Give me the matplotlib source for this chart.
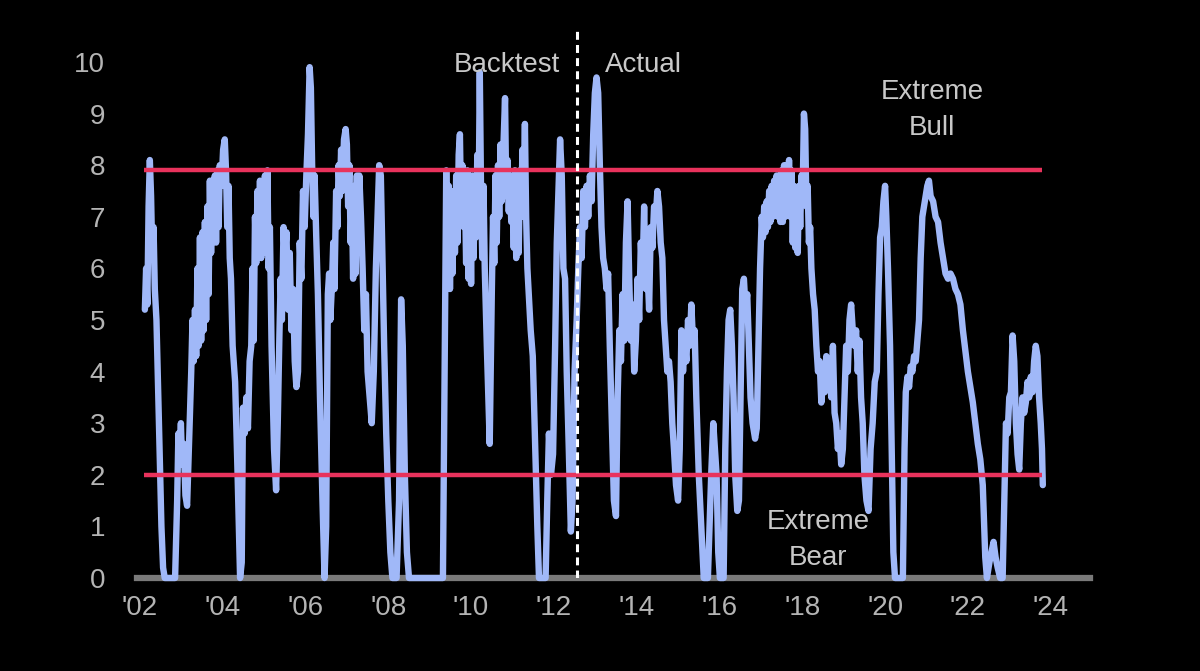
import matplotlib
matplotlib.use("Agg")
import matplotlib.pyplot as plt
from matplotlib import font_manager

# ---------------- data (by period) ----------------
years_02 = [2002.12, 2002.15, 2002.18, 2002.21, 2002.24, 2002.27, 2002.30, 2002.33, 2002.36, 2002.40,
            2002.46, 2002.52, 2002.56, 2002.60, 2002.85, 2002.90, 2002.93, 2002.96, 2002.99, 2003.02,
            2003.06, 2003.10, 2003.14, 2003.18, 2003.21, 2003.24, 2003.27]
vals_02 = [5.2, 6.0, 5.3, 7.2, 8.1, 7.4, 6.2, 6.8, 5.6, 5.0,
           3.0, 1.0, 0.2, 0.0, 0.0, 1.5, 2.8, 2.4, 3.0, 2.2,
           2.6, 1.6, 1.4, 2.4, 3.2, 4.0, 5.0]

years_03 = [2003.30, 2003.33, 2003.36, 2003.39, 2003.42, 2003.45, 2003.48, 2003.51, 2003.54, 2003.57,
            2003.60, 2003.63, 2003.66, 2003.69, 2003.72, 2003.75, 2003.78, 2003.81, 2003.84, 2003.87,
            2003.90, 2003.93, 2003.97, 2004.01, 2004.05, 2004.08, 2004.11, 2004.14, 2004.17, 2004.20]
vals_03 = [4.2, 5.2, 4.3, 6.0, 4.5, 6.6, 4.6, 6.7, 4.8, 6.9,
           5.0, 7.2, 5.5, 7.7, 6.3, 7.7, 6.6, 7.8, 6.5, 7.9,
           6.8, 8.0, 7.6, 8.3, 8.5, 7.9, 6.8, 7.6, 6.2, 5.8]

years_04 = [2004.24, 2004.30, 2004.36, 2004.42, 2004.46, 2004.49, 2004.53, 2004.57, 2004.61, 2004.65,
            2004.69, 2004.72, 2004.75, 2004.78, 2004.81, 2004.84, 2004.87, 2004.90, 2004.93, 2004.96,
            2004.99, 2005.02, 2005.05, 2005.08, 2005.11, 2005.14, 2005.18, 2005.24, 2005.29]
vals_04 = [4.5, 3.8, 2.0, 0.0, 0.3, 3.3, 2.8, 3.5, 2.9, 4.2,
           4.5, 6.0, 4.6, 7.0, 6.1, 7.5, 6.3, 7.7, 6.2, 7.6,
           6.4, 7.8, 6.3, 7.9, 6.0, 6.8, 4.5, 2.5, 1.7]

years_05 = [2005.33, 2005.37, 2005.40, 2005.43, 2005.47, 2005.50, 2005.54, 2005.58, 2005.62, 2005.66,
            2005.70, 2005.74, 2005.78, 2005.82, 2005.86, 2005.90, 2005.94, 2005.98, 2006.02, 2006.06,
            2006.10, 2006.13, 2006.16, 2006.19, 2006.22, 2006.26, 2006.30, 2006.35, 2006.41, 2006.46]
vals_05 = [3.0, 4.7, 5.8, 5.0, 6.8, 6.2, 6.7, 5.2, 6.3, 4.8,
           5.6, 4.2, 3.7, 4.0, 6.5, 5.8, 7.5, 6.8, 7.8, 8.6,
           9.9, 9.5, 8.0, 7.0, 7.8, 6.6, 5.5, 3.5, 1.5, 0.0]

years_06 = [2006.50, 2006.54, 2006.57, 2006.60, 2006.64, 2006.67, 2006.70, 2006.74, 2006.77, 2006.80,
            2006.83, 2006.86, 2006.89, 2006.93, 2006.97, 2007.00, 2007.03, 2007.06, 2007.09, 2007.12,
            2007.15, 2007.18, 2007.21, 2007.24, 2007.27, 2007.30, 2007.34, 2007.38, 2007.42]
vals_06 = [1.0, 5.5, 5.9, 5.0, 5.7, 6.5, 5.6, 7.5, 6.8, 8.0,
           7.4, 8.3, 7.5, 8.5, 8.7, 8.4, 7.2, 8.0, 6.5, 7.4,
           5.8, 7.6, 5.9, 7.8, 6.4, 7.8, 7.0, 6.0, 4.8]

years_07 = [2007.46, 2007.50, 2007.55, 2007.60, 2007.65, 2007.70, 2007.74, 2007.78, 2007.82, 2007.86,
            2007.90, 2007.95, 2008.00, 2008.05, 2008.10, 2008.20, 2008.26, 2008.31, 2008.35, 2008.40,
            2008.45, 2008.50, 2009.32, 2009.36]
vals_07 = [5.5, 4.0, 3.5, 3.0, 4.0, 6.0, 7.0, 8.0, 7.8, 6.2,
           4.5, 2.8, 1.5, 0.5, 0.0, 0.0, 1.5, 5.4, 4.5, 2.0,
           0.5, 0.0, 0.0, 4.0]

years_09 = [2009.40, 2009.43, 2009.46, 2009.49, 2009.52, 2009.55, 2009.58, 2009.61, 2009.64, 2009.67,
            2009.70, 2009.73, 2009.76, 2009.79, 2009.82, 2009.85, 2009.88, 2009.91, 2009.94, 2009.97,
            2010.00, 2010.03, 2010.06, 2010.09, 2010.12, 2010.15, 2010.18, 2010.21, 2010.24, 2010.27,
            2010.30, 2010.33]
vals_09 = [7.9, 5.8, 7.6, 5.6, 7.2, 5.9, 7.5, 6.3, 7.8, 6.5,
           8.2, 8.6, 7.0, 8.0, 6.8, 7.6, 6.1, 7.9, 5.8, 7.4,
           5.7, 7.8, 6.2, 7.5, 6.6, 8.2, 7.0, 9.8, 7.5, 6.2,
           7.6, 6.0]

years_10 = [2010.38, 2010.45, 2010.50, 2010.53, 2010.56, 2010.59, 2010.62, 2010.65, 2010.68, 2010.71,
            2010.74, 2010.77, 2010.80, 2010.82, 2010.85, 2010.88, 2010.91, 2010.94, 2010.97, 2011.00,
            2011.03, 2011.06, 2011.09, 2011.12, 2011.15, 2011.18, 2011.21, 2011.24, 2011.27, 2011.30,
            2011.33, 2011.36, 2011.40, 2011.44]
vals_10 = [4.5, 2.6, 5.5, 7.0, 6.1, 7.8, 6.5, 8.0, 7.0, 8.4,
           7.3, 8.1, 8.8, 9.3, 7.4, 8.1, 7.1, 7.8, 6.9, 7.6,
           6.4, 7.9, 6.2, 7.4, 6.3, 7.9, 7.0, 8.3, 7.5, 8.8,
           7.0, 6.0, 5.4, 4.8]

years_11 = [2011.49, 2011.55, 2011.60, 2011.64, 2011.80, 2011.84, 2011.88, 2011.93, 2011.98, 2012.03,
            2012.07, 2012.11, 2012.15, 2012.19, 2012.23, 2012.27, 2012.31, 2012.36, 2012.41, 2012.45]
vals_11 = [4.3, 2.5, 1.0, 0.0, 0.0, 1.5, 2.8, 2.0, 2.4, 4.5,
           6.5, 7.5, 8.5, 7.8, 6.0, 5.8, 4.0, 2.5, 0.9, 1.5]

years_12 = [2012.50, 2012.55, 2012.59, 2012.63, 2012.67, 2012.71, 2012.75, 2012.79, 2012.83, 2012.87,
            2012.91, 2012.95, 2012.99, 2013.03, 2013.07, 2013.11, 2013.15, 2013.19, 2013.23, 2013.27,
            2013.31, 2013.35, 2013.40, 2013.45, 2013.50]
vals_12 = [4.0, 5.0, 6.0, 6.8, 6.2, 7.5, 6.8, 7.6, 7.0, 7.8,
           7.3, 8.6, 9.4, 9.7, 9.4, 8.0, 6.8, 6.2, 6.0, 5.6,
           5.9, 4.5, 3.0, 1.5, 1.2]

years_13 = [2013.54, 2013.58, 2013.62, 2013.66, 2013.70, 2013.74, 2013.78, 2013.82, 2013.86, 2013.90,
            2013.94, 2013.98, 2014.02, 2014.06, 2014.10, 2014.14, 2014.18, 2014.22, 2014.26, 2014.30,
            2014.34, 2014.38, 2014.42, 2014.46, 2014.50, 2014.54, 2014.58, 2014.62, 2014.66, 2014.70,
            2014.74, 2014.78, 2014.82, 2014.86, 2014.90, 2014.95, 2015.00]
vals_13 = [3.5, 4.8, 4.2, 5.5, 4.6, 6.5, 7.3, 5.8, 4.6, 5.3,
           4.0, 4.6, 5.8, 5.0, 6.5, 5.8, 7.2, 5.6, 6.0, 5.2,
           6.8, 6.4, 7.2, 7.0, 7.5, 7.2, 6.5, 6.2, 5.0, 4.5,
           4.0, 4.2, 3.8, 3.0, 2.5, 1.8, 1.5]

years_15 = [2015.04, 2015.08, 2015.12, 2015.16, 2015.20, 2015.24, 2015.28, 2015.32, 2015.36, 2015.40,
            2015.44, 2015.50, 2015.56, 2015.62, 2015.72, 2015.76, 2015.80, 2015.85, 2015.89, 2015.93,
            2015.97, 2016.01, 2016.10]
vals_15 = [2.5, 4.8, 4.0, 4.6, 4.2, 5.0, 4.5, 5.3, 4.6, 4.8,
           3.5, 2.0, 1.0, 0.0, 0.0, 1.0, 2.0, 3.0, 2.5, 2.0,
           0.5, 0.0, 0.0]

years_16 = [2016.14, 2016.18, 2016.22, 2016.26, 2016.30, 2016.34, 2016.38, 2016.43, 2016.47, 2016.51,
            2016.55, 2016.59, 2016.63, 2016.67, 2016.71, 2016.75, 2016.80, 2016.86, 2016.90, 2016.94,
            2016.98, 2017.02]
vals_16 = [2.5, 4.0, 5.0, 5.2, 4.5, 3.5, 2.0, 1.3, 1.5, 3.5,
           5.6, 5.8, 5.2, 5.5, 4.5, 3.5, 3.0, 2.7, 2.9, 4.5,
           6.0, 7.0]

years_17 = [2017.05, 2017.08, 2017.11, 2017.14, 2017.17, 2017.20, 2017.23, 2017.26, 2017.29, 2017.32,
            2017.35, 2017.38, 2017.41, 2017.44, 2017.47, 2017.50, 2017.53, 2017.56, 2017.59, 2017.62,
            2017.65, 2017.68, 2017.71, 2017.74, 2017.77, 2017.80, 2017.83, 2017.86, 2017.89, 2017.92,
            2017.95, 2017.98, 2018.01, 2018.04, 2018.07, 2018.10, 2018.13, 2018.16, 2018.19, 2018.22]
vals_17 = [6.6, 7.2, 6.7, 7.3, 6.8, 7.5, 6.9, 7.6, 7.0, 7.7,
           7.1, 7.8, 7.0, 7.8, 6.9, 7.9, 6.9, 8.0, 7.0, 8.0,
           7.1, 8.1, 7.0, 7.9, 6.5, 7.6, 6.4, 7.5, 6.3, 7.6,
           6.8, 7.8, 7.5, 9.0, 8.7, 7.2, 7.6, 6.5, 6.8, 6.0]

years_18 = [2018.26, 2018.30, 2018.34, 2018.38, 2018.42, 2018.46, 2018.50, 2018.54, 2018.58, 2018.62,
            2018.66, 2018.70, 2018.74, 2018.78, 2018.82, 2018.86, 2018.90, 2018.94, 2018.98, 2019.02,
            2019.06, 2019.10, 2019.14, 2019.18, 2019.22, 2019.26, 2019.30, 2019.34, 2019.38, 2019.42,
            2019.46, 2019.50, 2019.55, 2019.60]
vals_18 = [5.5, 5.2, 4.5, 4.0, 4.2, 3.4, 3.8, 3.6, 4.3, 3.8,
           4.0, 3.5, 4.5, 3.2, 3.0, 2.5, 2.8, 2.2, 2.5, 3.5,
           4.5, 4.0, 5.0, 5.3, 4.8, 4.5, 4.8, 4.0, 4.6, 3.5,
           3.0, 2.0, 1.5, 1.3]

years_19 = [2019.65, 2019.70, 2019.75, 2019.80, 2019.84, 2019.88, 2019.92, 2019.96, 2020.00, 2020.03,
            2020.07, 2020.12, 2020.16, 2020.20, 2020.24, 2020.43, 2020.47, 2020.50, 2020.54, 2020.58,
            2020.62, 2020.66, 2020.70, 2020.74, 2020.78, 2020.82, 2020.86, 2020.90, 2020.94, 2020.98]
vals_19 = [2.5, 3.0, 3.8, 4.0, 5.5, 6.6, 6.8, 7.3, 7.6, 7.0,
           6.0, 4.5, 2.5, 0.5, 0.0, 0.0, 2.5, 3.6, 3.9, 3.7,
           4.1, 4.0, 4.3, 4.2, 4.6, 5.0, 6.2, 7.0, 7.2, 7.4]

years_21 = [2021.02, 2021.06, 2021.10, 2021.16, 2021.22, 2021.28, 2021.34, 2021.40, 2021.46, 2021.52,
            2021.58, 2021.64, 2021.70, 2021.76, 2021.82, 2021.88, 2021.94, 2022.00, 2022.06, 2022.12,
            2022.18, 2022.24, 2022.30, 2022.36]
vals_21 = [7.6, 7.7, 7.4, 7.3, 7.0, 6.9, 6.5, 6.2, 5.9, 5.8,
           5.9, 5.8, 5.6, 5.5, 5.3, 4.8, 4.4, 4.0, 3.7, 3.4,
           3.0, 2.6, 2.3, 1.8]

years_22 = [2022.42, 2022.46, 2022.52, 2022.57, 2022.62, 2022.67, 2022.72, 2022.78, 2022.84, 2022.88,
            2022.92, 2022.96, 2023.00, 2023.04, 2023.08, 2023.12, 2023.16, 2023.20, 2023.24, 2023.28,
            2023.32, 2023.36, 2023.40, 2023.44, 2023.48, 2023.52, 2023.56, 2023.60, 2023.64, 2023.68,
            2023.72, 2023.76, 2023.79, 2023.81]
vals_22 = [0.4, 0.0, 0.3, 0.5, 0.7, 0.4, 0.2, 0.0, 0.0, 1.5,
           3.0, 2.8, 3.5, 3.6, 4.7, 4.2, 3.0, 2.4, 2.1, 3.0,
           3.5, 3.2, 3.4, 3.8, 3.5, 3.9, 3.6, 4.2, 4.5, 4.3,
           3.5, 3.0, 2.5, 1.8]

year_parts = [years_02, years_03, years_04, years_05, years_06, years_07, years_09, years_10,
              years_11, years_12, years_13, years_15, years_16, years_17, years_18, years_19,
              years_21, years_22]
value_parts = [vals_02, vals_03, vals_04, vals_05, vals_06, vals_07, vals_09, vals_10,
               vals_11, vals_12, vals_13, vals_15, vals_16, vals_17, vals_18, vals_19,
               vals_21, vals_22]

bull_level = 7.9
bear_level = 2.0
band_start, band_end = 2002.1, 2023.8
split_year = 2012.55

ytick_values = [0, 1, 2, 3, 4, 5, 6, 7, 8, 9, 10]
xtick_values = [2002, 2004, 2006, 2008, 2010, 2012, 2014, 2016, 2018, 2020, 2022, 2024]
xtick_labels = ["'02", "'04", "'06", "'08", "'10", "'12", "'14", "'16", "'18", "'20", "'22", "'24"]

years = [y for part in year_parts for y in part]
indicator = [v for part in value_parts for v in part]

# ---------------- style ----------------
avail = {f.name for f in font_manager.fontManager.ttflist}
family = "Liberation Sans" if "Liberation Sans" in avail else "DejaVu Sans"
plt.rcParams["font.family"] = [family]

bg = "black"
blue = "#a0b8f8"
red = "#e8325c"
tick_col = "#b4b4b4"
text_col = "#c8c8c8"

fig = plt.figure(figsize=(12, 6.71), dpi=100, facecolor=bg)
ax = fig.add_axes([137 / 1200, 1 - 578 / 671, 953 / 1200, (578 - 20.7) / 671])
ax.set_facecolor(bg)

ax.set_xlim(2001.93, 2024.95)
ax.set_ylim(0, 10.8)

# baseline
ax.axhline(0, color="#7a7a7a", lw=4.5, clip_on=False, zorder=1)

# threshold lines
ax.hlines([bull_level, bear_level], band_start, band_end, colors=red, lw=3.2, zorder=3)

# data line
ax.plot(years, indicator, color=blue, lw=4.6, solid_joinstyle="round",
        solid_capstyle="round", clip_on=False, zorder=2)

# split line
ax.vlines(split_year, 0, 10.66, colors="white", lw=2.2, linestyles=(0, (2.6, 1.7)), zorder=4)

# texts
fs = 20
ax.text(2012.14, 9.94, "Backtest", ha="right", va="center", color=text_col, fontsize=fs, zorder=5)
ax.text(2013.23, 9.94, "Actual", ha="left", va="center", color=text_col, fontsize=fs, zorder=5)
ax.text(2021.13, 9.07, "Extreme\nBull", ha="center", va="center", color=text_col,
        fontsize=fs, linespacing=1.5, zorder=5)
ax.text(2018.38, 0.74, "Extreme\nBear", ha="center", va="center", color=text_col,
        fontsize=fs, linespacing=1.5, zorder=5)

# ticks
ax.set_yticks(ytick_values)
ax.set_xticks(xtick_values)
ax.set_xticklabels(xtick_labels)
ax.tick_params(axis="y", length=0, pad=23, labelsize=fs, labelcolor=tick_col)
ax.tick_params(axis="x", length=0, pad=12, labelsize=fs, labelcolor=tick_col)

for s in ax.spines.values():
    s.set_visible(False)

fig.savefig("out.png", dpi=100, facecolor=bg)
